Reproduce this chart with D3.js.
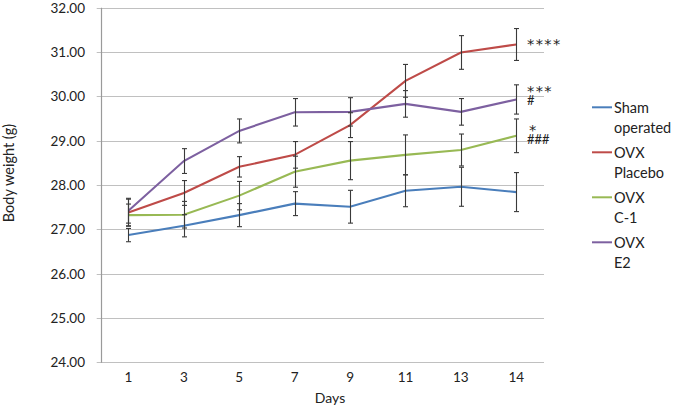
<!DOCTYPE html>
<html><head><meta charset="utf-8">
<script src="https://cdn.jsdelivr.net/npm/d3@7"></script>
<style>body{margin:0;background:#fff;} svg{display:block;font-family:Lato,"Open Sans",sans-serif;}</style>
</head><body><svg id="c" width="675" height="409"></svg>
<script>
const days = ["1","3","5","7","9","11","13","14"];
const yTicks = [24,25,26,27,28,29,30,31,32];
const seriesNames = ["Sham operated","OVX Placebo","OVX C-1","OVX E2"];
const legendLines = [["Sham","operated"],["OVX","Placebo"],["OVX","C-1"],["OVX","E2"]];
const colors = ["#4a7ebb","#be4b48","#98b954","#7d60a0"];
const shamVals = [26.87,27.08,27.32,27.58,27.51,27.87,27.96,27.84];
const shamErr  = [0.15,0.25,0.26,0.27,0.37,0.36,0.44,0.44];
const placeboVals = [27.38,27.82,28.41,28.68,29.35,30.35,30.99,31.17];
const placeboErr  = [0.30,0.28,0.23,0.30,0.28,0.37,0.38,0.36];
const c1Vals = [27.32,27.33,27.76,28.30,28.55,28.68,28.79,29.11];
const c1Err  = [0.25,0.30,0.32,0.35,0.43,0.45,0.36,0.38];
const e2Vals = [27.42,28.54,29.22,29.64,29.65,29.83,29.65,29.93];
const e2Err  = [0.28,0.28,0.27,0.31,0.32,0.30,0.30,0.33];
const starLabels = ["****","***","*"];
const hashLabels = ["","#","###"];

const values = [shamVals, placeboVals, c1Vals, e2Vals];
const errs = [shamErr, placeboErr, c1Err, e2Err];

const svg = d3.select("#c");
const L = 100.7, R = 544, T = 7.7, B = 362.3;
const x = d3.scalePoint().domain(days).range([L, R]).padding(0.5);
const y = d3.scaleLinear().domain([24, 32]).range([B, T]);

// gridlines
svg.append("g").selectAll("line").data(yTicks).join("line")
  .attr("x1", L - 4).attr("x2", R)
  .attr("y1", d => Math.round(y(d)) + 0.5).attr("y2", d => Math.round(y(d)) + 0.5)
  .attr("stroke", "#c0c0c0").attr("stroke-width", 1.2);
// y axis line
svg.append("line").attr("x1", Math.round(L)+0.5).attr("x2", Math.round(L)+0.5)
  .attr("y1", T).attr("y2", B+0.5).attr("stroke", "#9a9a9a").attr("stroke-width", 1.2);

// y tick labels
svg.append("g").selectAll("text").data(yTicks).join("text")
  .attr("x", 85).attr("y", d => y(d)).attr("dy", "0.36em")
  .attr("text-anchor", "end").attr("font-size", 13.5).attr("fill", "#222")
  .text(d => d.toFixed(2));
// x tick labels
svg.append("g").selectAll("text").data(days).join("text")
  .attr("x", d => x(d)).attr("y", 382)
  .attr("text-anchor", "middle").attr("font-size", 13.5).attr("fill", "#222")
  .text(d => d);
// axis titles
svg.append("text").attr("x", 330).attr("y", 403).attr("text-anchor", "middle")
  .attr("font-size", 14).attr("fill", "#222").text("Days");
svg.append("text").attr("transform", "translate(13.5,173) rotate(-90)")
  .attr("text-anchor", "middle").attr("font-size", 14.5).attr("fill", "#222")
  .text("Body weight (g)");

const line = d3.line().x((d, i) => x(days[i])).y(d => y(d));
// lines
values.forEach((vals, s) => {
  svg.append("path").datum(vals).attr("d", line).attr("fill", "none")
    .attr("stroke", colors[s]).attr("stroke-width", 2.1);
});
// error bars
values.forEach((vals, s) => {
  const g = svg.append("g").attr("stroke", "#3a3a3a").attr("stroke-width", 1.1);
  vals.forEach((v, i) => {
    const cx = Math.round(x(days[i])) + 0.5;
    const e = errs[s][i];
    g.append("line").attr("x1", cx).attr("x2", cx).attr("y1", y(v + e)).attr("y2", y(v - e));
    [v + e, v - e].forEach(w => g.append("line").attr("x1", cx - 2.5).attr("x2", cx + 2.5)
      .attr("y1", y(w)).attr("y2", y(w)));
  });
});

// annotations: one two-line text per label (asterisks line, hashes line)
const starPos = [[527, 40.7], [527, 87.7], [529, 126.7]];
starLabels.forEach((t, k) => {
  const txt = svg.append("text").attr("fill", "#222");
  txt.append("tspan").attr("x", starPos[k][0]).attr("y", starPos[k][1] + 8)
    .attr("font-family", "DejaVu Sans").attr("font-size", 14.5)
    .attr("letter-spacing", "1.4px").text(t);
  if (hashLabels[k]) txt.append("tspan").attr("x", 527).attr("y", starPos[k][1] + 12.5 + 4.6)
    .attr("font-size", 13).text(hashLabels[k]);
});

// legend
const lg = svg.append("g");
legendLines.forEach((lines, s) => {
  const yy = 107.3 + s * 45;
  lg.append("line").attr("x1", 592).attr("x2", 612).attr("y1", yy).attr("y2", yy)
    .attr("stroke", colors[s]).attr("stroke-width", 2);
  const t = lg.append("text").attr("font-size", 14.5).attr("fill", "#222");
  lines.forEach((w, j) => t.append("tspan").attr("x", 614).attr("y", yy + j * 20)
    .attr("dy", "0.36em").text(w));
});
</script></body></html>
